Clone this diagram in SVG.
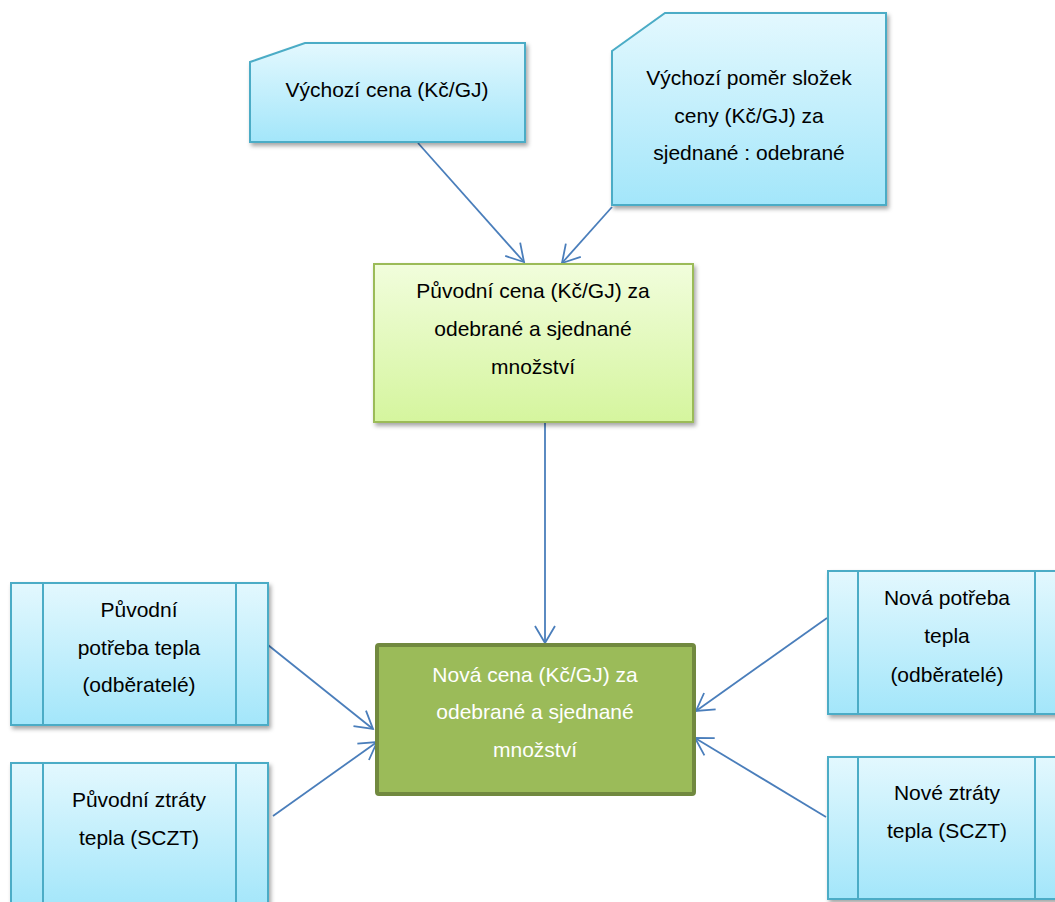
<svg xmlns="http://www.w3.org/2000/svg" width="1055" height="902" viewBox="0 0 1055 902">
  <defs>
    <linearGradient id="blueFill" x1="0" y1="0" x2="0" y2="1">
      <stop offset="0" stop-color="#E3F8FE"/>
      <stop offset="1" stop-color="#A3E6FA"/>
    </linearGradient>
    <linearGradient id="lightGreenFill" x1="0" y1="0" x2="0" y2="1">
      <stop offset="0" stop-color="#F1FDDC"/>
      <stop offset="1" stop-color="#D5F59E"/>
    </linearGradient>
    <filter id="shadow" x="-10%" y="-10%" width="125%" height="130%">
      <feDropShadow dx="2" dy="3" stdDeviation="2" flood-color="#000" flood-opacity="0.35"/>
    </filter>
    <marker id="arrow" markerUnits="userSpaceOnUse" viewBox="-20 -12 22 24" refX="0" refY="0" markerWidth="22" markerHeight="24" orient="auto">
      <path d="M-17,-10 L0,0 L-17,10" fill="none" stroke="#4A7EBB" stroke-width="1.8"/>
    </marker>
  </defs>
  <style>
    .blue { fill: url(#blueFill); stroke: #4BACC6; stroke-width: 2; filter: url(#shadow); }
    .divider { stroke: #4BACC6; stroke-width: 2; fill: none; }
    .lgreen { fill: url(#lightGreenFill); stroke: #9BBB59; stroke-width: 2; filter: url(#shadow); }
    .dgreen { fill: #9BBB59; stroke: #71893F; stroke-width: 4; }
    .conn { stroke: #4A7EBB; stroke-width: 1.8; fill: none; marker-end: url(#arrow); }
    text { font-family: "Liberation Sans", Arial, sans-serif; font-size: 21px; text-anchor: middle; fill: #000; }
    .white { fill: #FFFFFF; }
  </style>

  <rect width="1055" height="902" fill="#FFFFFF"/>

  <!-- connectors -->
  <g id="connectors">
    <line class="conn" x1="418" y1="143" x2="524" y2="262"/>
    <line class="conn" x1="612" y1="207" x2="562" y2="263"/>
    <line class="conn" x1="545" y1="423" x2="545" y2="643"/>
    <line class="conn" x1="268" y1="645" x2="373" y2="729"/>
    <line class="conn" x1="273" y1="816" x2="377" y2="742"/>
    <line class="conn" x1="827" y1="618" x2="696" y2="711"/>
    <line class="conn" x1="826" y1="817" x2="695" y2="738"/>
  </g>

  <!-- start price -->
  <g id="node-vychozi-cena">
    <polygon class="blue" points="250,62 305,43 525,43 525,142 250,142"/>
    <text x="387" y="97">Výchozí cena (Kč/GJ)</text>
  </g>

  <!-- start price component ratio -->
  <g id="node-vychozi-pomer">
    <polygon class="blue" points="612,51 665,13 886,13 886,205 612,205"/>
    <text x="749" y="85">Výchozí poměr složek</text>
    <text x="749" y="123">ceny (Kč/GJ) za</text>
    <text x="749" y="160">sjednané : odebrané</text>
  </g>

  <!-- original price -->
  <g id="node-puvodni-cena">
    <rect class="lgreen" x="374" y="264" width="319" height="158"/>
    <text x="533" y="298">Původní cena (Kč/GJ) za</text>
    <text x="533" y="336">odebrané a sjednané</text>
    <text x="533" y="374">množství</text>
  </g>

  <!-- new price -->
  <g id="node-nova-cena">
    <rect class="dgreen" x="377" y="645" width="317" height="149" rx="2"/>
    <text class="white" x="535" y="682">Nová cena (Kč/GJ) za</text>
    <text class="white" x="535" y="719">odebrané a sjednané</text>
    <text class="white" x="535" y="757">množství</text>
  </g>

  <!-- original heat demand -->
  <g id="node-puvodni-potreba">
    <rect class="blue" x="11" y="583" width="257" height="142"/>
    <line class="divider" x1="43" y1="583" x2="43" y2="725"/>
    <line class="divider" x1="236" y1="583" x2="236" y2="725"/>
    <text x="139" y="617">Původní</text>
    <text x="139" y="655">potřeba tepla</text>
    <text x="139" y="692">(odběratelé)</text>
  </g>

  <!-- original heat losses -->
  <g id="node-puvodni-ztraty">
    <rect class="blue" x="11" y="763" width="257" height="145"/>
    <line class="divider" x1="43" y1="763" x2="43" y2="908"/>
    <line class="divider" x1="236" y1="763" x2="236" y2="908"/>
    <text x="139" y="807">Původní ztráty</text>
    <text x="139" y="845">tepla (SCZT)</text>
  </g>

  <!-- new heat demand -->
  <g id="node-nova-potreba">
    <rect class="blue" x="828" y="571" width="257" height="143"/>
    <line class="divider" x1="858" y1="571" x2="858" y2="714"/>
    <line class="divider" x1="1035" y1="571" x2="1035" y2="714"/>
    <text x="947" y="605">Nová potřeba</text>
    <text x="947" y="643">tepla</text>
    <text x="947" y="682">(odběratelé)</text>
  </g>

  <!-- new heat losses -->
  <g id="node-nove-ztraty">
    <rect class="blue" x="828" y="757" width="257" height="142"/>
    <line class="divider" x1="858" y1="757" x2="858" y2="899"/>
    <line class="divider" x1="1035" y1="757" x2="1035" y2="899"/>
    <text x="947" y="800">Nové ztráty</text>
    <text x="947" y="838">tepla (SCZT)</text>
  </g>
</svg>
